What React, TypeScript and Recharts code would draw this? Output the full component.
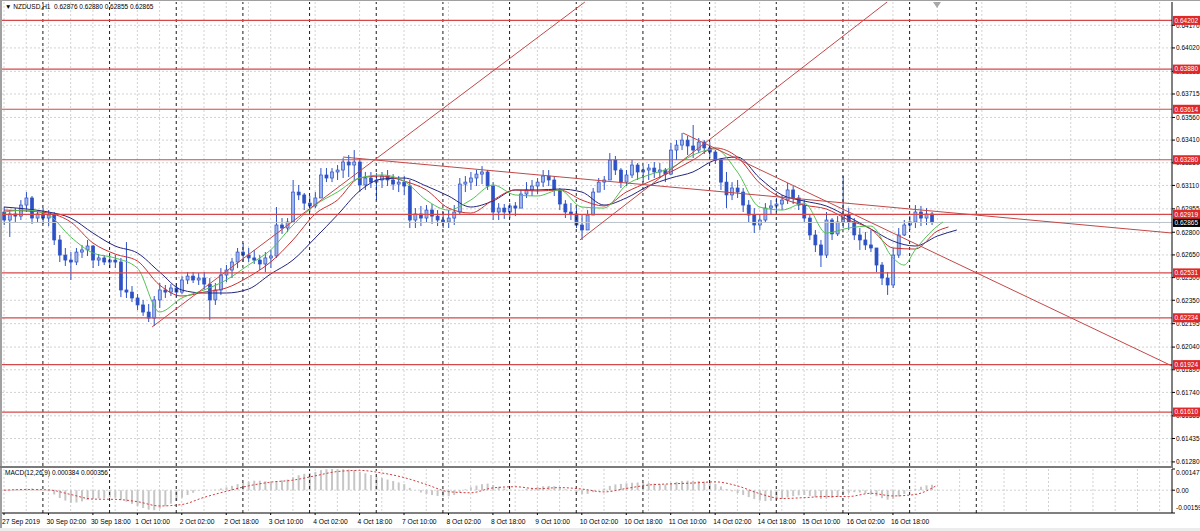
import {
  ComposedChart,
  Bar,
  Line,
  XAxis,
  YAxis,
  CartesianGrid,
  ReferenceLine,
} from 'recharts';

// 2-hour candles, NZDUSD H1 (27 Sep 10:00 -> 17 Oct), index k = hour bar number
const candleOpen = [
  0.62934, 0.62881, 0.62921, 0.62907, 0.6298, 0.63027, 0.62894, 0.62921, 0.62894, 0.62914,
  0.62749, 0.62649, 0.62616, 0.62603, 0.62669, 0.62683, 0.62709, 0.62616, 0.6263, 0.62603,
  0.62616, 0.62603, 0.62418, 0.62404, 0.62365, 0.62319, 0.62272, 0.62232, 0.62352, 0.62418,
  0.62404, 0.62431, 0.62404, 0.62484, 0.6251, 0.62484, 0.62497, 0.62457, 0.62352, 0.62418,
  0.62517, 0.6255, 0.62603, 0.62669, 0.62649, 0.6263, 0.62616, 0.6259, 0.6263, 0.62643,
  0.62848, 0.62828, 0.62868, 0.63066, 0.63047, 0.62993, 0.62974, 0.63027, 0.63179, 0.63159,
  0.63199, 0.63212, 0.63265, 0.63245, 0.63265, 0.63113, 0.63159, 0.63132, 0.63146, 0.63172,
  0.63146, 0.63119, 0.63132, 0.63106, 0.62881, 0.62921, 0.62894, 0.62947, 0.62907, 0.62881,
  0.62868, 0.62894, 0.62934, 0.63119, 0.63132, 0.63159, 0.63185, 0.63199, 0.63106, 0.62934,
  0.6296, 0.62934, 0.62974, 0.6296, 0.63053, 0.6308, 0.63106, 0.63132, 0.63172, 0.63146,
  0.6308, 0.62987, 0.62934, 0.62921, 0.62848, 0.62815, 0.62914, 0.63066, 0.63132, 0.63146,
  0.63278, 0.63212, 0.63132, 0.63179, 0.63245, 0.63199, 0.63212, 0.63225, 0.63199, 0.63212,
  0.63185, 0.63344, 0.63377, 0.6341, 0.63371, 0.63344, 0.63397, 0.63358, 0.63331, 0.63278,
  0.63132, 0.63047, 0.63093, 0.63066, 0.6298, 0.62914, 0.62848, 0.62881, 0.6296, 0.62974,
  0.62987, 0.63013, 0.6308, 0.63027, 0.6298, 0.62894, 0.62782, 0.62716, 0.62649, 0.62881,
  0.62789, 0.62868, 0.62914, 0.62868, 0.62782, 0.62749, 0.62716, 0.62696, 0.62583, 0.62497,
  0.62451, 0.62649, 0.62782, 0.62848, 0.62868, 0.62934, 0.62894, 0.62921,
];
const candleHigh = [
  0.62967, 0.62947, 0.6296, 0.63013, 0.63066, 0.6304, 0.62947, 0.6296, 0.62947, 0.62934,
  0.62782, 0.62696, 0.62669, 0.62696, 0.62716, 0.62749, 0.62716, 0.62656, 0.62649, 0.62643,
  0.62649, 0.6263, 0.62735, 0.62444, 0.62391, 0.62352, 0.62325, 0.62378, 0.62464, 0.62451,
  0.62457, 0.62464, 0.6251, 0.62537, 0.62537, 0.6253, 0.62537, 0.62497, 0.62464, 0.62563,
  0.62583, 0.6263, 0.62696, 0.62729, 0.62696, 0.62683, 0.62649, 0.62669, 0.62683, 0.62967,
  0.62894, 0.62894, 0.63146, 0.63113, 0.6306, 0.6304, 0.63066, 0.63225, 0.63225, 0.63225,
  0.63245, 0.63291, 0.63311, 0.63344, 0.63291, 0.63199, 0.63199, 0.63192, 0.63199, 0.63212,
  0.63185, 0.63172, 0.63172, 0.63146, 0.6296, 0.62974, 0.6298, 0.62987, 0.62947, 0.62934,
  0.62947, 0.6298, 0.63159, 0.63172, 0.63199, 0.63212, 0.63238, 0.63212, 0.63132, 0.62993,
  0.62987, 0.62993, 0.63, 0.6308, 0.63132, 0.63146, 0.63159, 0.63212, 0.63212, 0.63172,
  0.63093, 0.63013, 0.62993, 0.6296, 0.62914, 0.62947, 0.63093, 0.63159, 0.63172, 0.63324,
  0.63305, 0.63225, 0.63212, 0.63278, 0.63258, 0.63238, 0.63252, 0.63265, 0.63258, 0.63225,
  0.63391, 0.6341, 0.63457, 0.63437, 0.6351, 0.63424, 0.6341, 0.63397, 0.63344, 0.63291,
  0.63199, 0.63132, 0.63146, 0.63093, 0.63013, 0.6296, 0.62914, 0.62993, 0.63013, 0.63027,
  0.63047, 0.63126, 0.63106, 0.63047, 0.63013, 0.62914, 0.62815, 0.62749, 0.62934, 0.62894,
  0.62907, 0.63172, 0.6296, 0.62894, 0.62828, 0.62802, 0.62815, 0.62696, 0.62603, 0.62537,
  0.62696, 0.62828, 0.62881, 0.62907, 0.6298, 0.62974, 0.6296, 0.62934,
];
const candleLow = [
  0.62848, 0.62769, 0.62868, 0.62881, 0.62934, 0.62855, 0.62868, 0.62855, 0.62841, 0.62716,
  0.62603, 0.62577, 0.62484, 0.62583, 0.6263, 0.62643, 0.62563, 0.62577, 0.62583, 0.62563,
  0.62563, 0.62371, 0.62365, 0.62338, 0.62285, 0.62246, 0.62206, 0.62179, 0.62299, 0.62365,
  0.62378, 0.62371, 0.62391, 0.62457, 0.62464, 0.62451, 0.62418, 0.62219, 0.62319, 0.62385,
  0.62471, 0.62497, 0.62563, 0.62603, 0.62603, 0.6259, 0.6255, 0.62537, 0.62563, 0.6263,
  0.62789, 0.62802, 0.62868, 0.63013, 0.62947, 0.62934, 0.6296, 0.63027, 0.63132, 0.63132,
  0.63146, 0.63159, 0.63166, 0.63146, 0.63066, 0.6308, 0.63093, 0.63013, 0.63093, 0.63106,
  0.6308, 0.63066, 0.63047, 0.62828, 0.62828, 0.62841, 0.62868, 0.62855, 0.62841, 0.62828,
  0.62828, 0.62848, 0.62914, 0.63066, 0.6308, 0.63106, 0.63119, 0.6308, 0.62881, 0.62881,
  0.62888, 0.62894, 0.62907, 0.6296, 0.63027, 0.6304, 0.63053, 0.63099, 0.63106, 0.6304,
  0.62947, 0.62894, 0.62881, 0.62828, 0.62749, 0.62815, 0.62914, 0.63066, 0.6308, 0.63146,
  0.63179, 0.63093, 0.63106, 0.63159, 0.63146, 0.63132, 0.63146, 0.63159, 0.63159, 0.63132,
  0.63179, 0.63278, 0.63344, 0.63311, 0.63291, 0.63324, 0.63318, 0.63291, 0.63252, 0.6308,
  0.6296, 0.63013, 0.63027, 0.62934, 0.62868, 0.62795, 0.62815, 0.62868, 0.62921, 0.62934,
  0.62947, 0.62987, 0.62987, 0.62947, 0.62868, 0.62749, 0.62669, 0.6257, 0.6263, 0.62749,
  0.62775, 0.62828, 0.62815, 0.62749, 0.62683, 0.62683, 0.62669, 0.62537, 0.62451, 0.62385,
  0.62431, 0.6263, 0.62775, 0.62815, 0.62828, 0.62841, 0.62848, 0.62848,
];
const candleClose = [
  0.62881, 0.62921, 0.62907, 0.6298, 0.63027, 0.62894, 0.62921, 0.62894, 0.62914, 0.62749,
  0.62649, 0.62616, 0.62603, 0.62669, 0.62683, 0.62709, 0.62616, 0.6263, 0.62603, 0.62616,
  0.62603, 0.62418, 0.62404, 0.62365, 0.62319, 0.62272, 0.62232, 0.62352, 0.62418, 0.62404,
  0.62431, 0.62404, 0.62484, 0.6251, 0.62484, 0.62497, 0.62457, 0.62352, 0.62418, 0.62517,
  0.6255, 0.62603, 0.62669, 0.62649, 0.6263, 0.62616, 0.6259, 0.6263, 0.62643, 0.62848,
  0.62828, 0.62868, 0.63066, 0.63047, 0.62993, 0.62974, 0.63027, 0.63179, 0.63159, 0.63199,
  0.63212, 0.63265, 0.63245, 0.63265, 0.63113, 0.63159, 0.63132, 0.63146, 0.63172, 0.63146,
  0.63119, 0.63132, 0.63106, 0.62881, 0.62921, 0.62894, 0.62947, 0.62907, 0.62881, 0.62868,
  0.62894, 0.62934, 0.63119, 0.63132, 0.63159, 0.63185, 0.63199, 0.63106, 0.62934, 0.6296,
  0.62934, 0.62974, 0.6296, 0.63053, 0.6308, 0.63106, 0.63132, 0.63172, 0.63146, 0.6308,
  0.62987, 0.62934, 0.62921, 0.62848, 0.62815, 0.62914, 0.63066, 0.63132, 0.63146, 0.63278,
  0.63212, 0.63132, 0.63179, 0.63245, 0.63199, 0.63212, 0.63225, 0.63199, 0.63212, 0.63185,
  0.63344, 0.63377, 0.6341, 0.63371, 0.63344, 0.63397, 0.63358, 0.63331, 0.63278, 0.63132,
  0.63047, 0.63093, 0.63066, 0.6298, 0.62914, 0.62848, 0.62881, 0.6296, 0.62974, 0.62987,
  0.63013, 0.6308, 0.63027, 0.6298, 0.62894, 0.62782, 0.62716, 0.62649, 0.62881, 0.62789,
  0.62868, 0.62914, 0.62868, 0.62782, 0.62749, 0.62716, 0.62696, 0.62583, 0.62497, 0.62451,
  0.62649, 0.62782, 0.62848, 0.62868, 0.62934, 0.62894, 0.62921, 0.62865,
];
const macdMain = [
  0, 0.00002, 0.00004, 0.00008, 0.00012, 0.00012, 0.00008, 0.00002, -0.00008, -0.0003,
  -0.00055, -0.00072, -0.00088, -0.00086, -0.00078, -0.00068, -0.00062, -0.00058, -0.00054, -0.0005,
  -0.00052, -0.00068, -0.0008, -0.00095, -0.0011, -0.00124, -0.00136, -0.0014, -0.00128, -0.00112,
  -0.00094, -0.00074, -0.00052, -0.00034, -0.00018, -0.00004, 0.00004, 0, 0.00004, 0.00012,
  0.0002, 0.0003, 0.00042, 0.00052, 0.0006, 0.00066, 0.00066, 0.00062, 0.0006, 0.00064,
  0.00068, 0.00074, 0.0009, 0.00104, 0.00114, 0.0012, 0.00128, 0.0014, 0.00146, 0.00148,
  0.00146, 0.00146, 0.00144, 0.0014, 0.00128, 0.00118, 0.00106, 0.00094, 0.00084, 0.00074,
  0.00064, 0.00054, 0.00042, 0.00016, -0.00002, -0.00016, -0.00026, -0.00034, -0.0004, -0.00044,
  -0.00042, -0.00034, -0.00012, 0.00006, 0.0002, 0.00032, 0.00042, 0.00046, 0.00036, 0.00024,
  0.00012, 0.00004, -0.00002, 0.00002, 0.0001, 0.00016, 0.00022, 0.00028, 0.0003, 0.00028,
  0.00018, 0.00006, -0.00006, -0.00018, -0.00028, -0.00026, -0.00014, 0, 0.00012, 0.0003,
  0.0004, 0.00044, 0.00048, 0.00052, 0.00054, 0.00052, 0.0005, 0.00046, 0.00042, 0.0004,
  0.0005, 0.00058, 0.00064, 0.00066, 0.00066, 0.00064, 0.0006, 0.00054, 0.00044, 0.00026,
  0.00008, -0.00008, -0.0002, -0.00034, -0.00048, -0.00062, -0.00072, -0.00076, -0.00074, -0.00068,
  -0.0006, -0.0005, -0.00042, -0.00036, -0.00034, -0.0004, -0.0005, -0.0006, -0.00058, -0.00054,
  -0.00048, -0.0003, -0.00018, -0.00014, -0.00016, -0.00022, -0.0003, -0.00042, -0.00056, -0.00066,
  -0.0006, -0.00044, -0.00026, -0.00008, 0.0001, 0.00024, 0.00034, 0.00038,
];

// Alligator lines (read every 8 bars)
const jawK = [0, 8, 16, 24, 32, 40, 48, 56, 64, 72, 80, 88, 96, 104, 112, 120, 128, 136, 144, 152, 160, 168, 176, 184, 192, 200, 208, 216, 224, 232, 240, 248, 256, 264, 272, 280, 288, 296, 304, 312, 320, 328, 336, 343];
const jawV = [0.62967, 0.62954, 0.62934, 0.62894, 0.62795, 0.62709, 0.62663, 0.62537, 0.62418, 0.62398, 0.62398, 0.62424, 0.62524, 0.62616, 0.62762, 0.62914, 0.63073, 0.63152, 0.63159, 0.63106, 0.6304, 0.62967, 0.63007, 0.6308, 0.6308, 0.63086, 0.63066, 0.6298, 0.63027, 0.63106, 0.63159, 0.63199, 0.63278, 0.63298, 0.63159, 0.63047, 0.63007, 0.62974, 0.62901, 0.62822, 0.62742, 0.62709, 0.62775, 0.62815];
const teethK = [0, 8, 16, 24, 32, 40, 48, 56, 64, 72, 80, 88, 96, 104, 112, 120, 128, 136, 144, 152, 160, 168, 176, 184, 192, 200, 208, 216, 224, 232, 240, 248, 256, 264, 272, 280, 288, 296, 304, 312, 320, 328, 336, 340];
const teethV = [0.62947, 0.62941, 0.62927, 0.62868, 0.62729, 0.62656, 0.6261, 0.62451, 0.62378, 0.62404, 0.62431, 0.62504, 0.62603, 0.62749, 0.62921, 0.63013, 0.63159, 0.63172, 0.63139, 0.6308, 0.6296, 0.62927, 0.63013, 0.6308, 0.63073, 0.6308, 0.63013, 0.62974, 0.63066, 0.63132, 0.63199, 0.63278, 0.63358, 0.63298, 0.63126, 0.63027, 0.6298, 0.62954, 0.62881, 0.62822, 0.62696, 0.62689, 0.62808, 0.62835];
const lipsK = [0, 8, 16, 24, 32, 40, 48, 56, 64, 72, 80, 88, 96, 104, 112, 120, 128, 136, 144, 152, 160, 168, 176, 184, 192, 200, 208, 216, 224, 232, 240, 248, 256, 264, 272, 280, 288, 296, 304, 312, 320, 324, 328, 336, 338];
const lipsV = [0.62934, 0.62947, 0.62914, 0.62769, 0.62663, 0.6263, 0.62563, 0.62272, 0.62365, 0.62418, 0.62484, 0.62583, 0.62683, 0.62848, 0.6298, 0.63066, 0.63159, 0.63179, 0.63139, 0.63013, 0.62947, 0.63013, 0.63113, 0.63047, 0.6304, 0.6308, 0.62967, 0.6296, 0.63113, 0.63179, 0.63225, 0.63311, 0.63351, 0.63199, 0.62967, 0.62947, 0.62993, 0.62795, 0.62828, 0.62841, 0.6263, 0.62583, 0.62683, 0.62841, 0.62868];

// MACD signal (dotted), every 8 bars
const signalK = [0, 8, 16, 24, 32, 40, 48, 56, 64, 72, 80, 88, 96, 104, 112, 120, 128, 136, 144, 152, 160, 168, 176, 184, 192, 200, 208, 216, 224, 232, 240, 248, 256, 264, 272, 280, 288, 296, 304, 312, 320, 328, 336];
const signalV = [0, 0.00004, 0.00002, -0.0003, -0.00062, -0.00064, -0.0008, -0.0011, -0.001, -0.0005, -0.00008, 0.0003, 0.00056, 0.0007, 0.001, 0.0013, 0.00138, 0.0012, 0.00088, 0.0004, -0.0001, -0.00018, 0.00016, 0.00024, 0.0001, 0.00018, 0.00008, -0.00012, 0.00012, 0.00036, 0.00044, 0.0005, 0.00058, 0.0003, -0.00024, -0.00058, -0.00052, -0.00044, -0.00044, -0.00022, -0.0004, -0.0003, 0.00036];

const levelPrices = [0.64202, 0.6388, 0.63614, 0.6328, 0.62919, 0.62531, 0.62234, 0.61924, 0.6161];
const lastPrice = 0.62865;
const priceTicks = [0.6417, 0.6402, 0.63865, 0.63715, 0.6356, 0.6341, 0.6326, 0.6311, 0.62955, 0.628, 0.6265, 0.625, 0.6235, 0.62195, 0.6204, 0.6189, 0.6174, 0.61585, 0.61435, 0.6128];

// trend lines: [startBar, startPrice, endBar, endPrice]
const trendLines = [
  [53.3, 0.62173, 209.1, 0.64324],
  [207.3, 0.62749, 317.9, 0.64324],
  [122, 0.63298, 420.45, 0.62795],
  [244.4, 0.63457, 420.45, 0.61915],
];

const timeLabels = ['27 Sep 2019', '30 Sep 02:00', '30 Sep 18:00', '1 Oct 10:00', '2 Oct 02:00', '2 Oct 18:00', '3 Oct 10:00', '4 Oct 02:00', '4 Oct 18:00', '7 Oct 10:00', '8 Oct 02:00', '8 Oct 18:00', '9 Oct 10:00', '10 Oct 02:00', '10 Oct 18:00', '11 Oct 10:00', '14 Oct 02:00', '14 Oct 18:00', '15 Oct 10:00', '16 Oct 02:00', '16 Oct 18:00'];
const labelBars = timeLabels.map((_, i) => i * 16);
const gridBars = Array.from({ length: 53 }, (_, i) => i * 8);
const daySeparators = [14, 38, 62, 86, 110, 134, 158, 182, 206, 230, 254, 278, 302, 326, 350];

const macdTicks = [0.001477, 0, -0.00159];
const macdTickText = ['0.001477', '0.00', '-0.00159'];

const X_DOMAIN: [number, number] = [-0.72, 420.45];
const P_DOMAIN: [number, number] = [0.61253, 0.64324];
const FONT = '"Liberation Sans", Arial, sans-serif';
const MAIN_MARGIN = { top: 2, right: 0, bottom: 1, left: 2 };

const candles = candleOpen.map((o, j) => ({
  k: j * 2,
  o,
  h: candleHigh[j],
  l: candleLow[j],
  c: candleClose[j],
  range: [candleLow[j], candleHigh[j]],
  macd: macdMain[j],
}));
const jaw = jawK.map((k, i) => ({ k, v: jawV[i] }));
const teeth = teethK.map((k, i) => ({ k, v: teethV[i] }));
const lips = lipsK.map((k, i) => ({ k, v: lipsV[i] }));
const signal = signalK.map((k, i) => ({ k, v: signalV[i] }));

const Candle = (props: any) => {
  const { x, y, width, height, payload } = props;
  if (!payload || height == null || isNaN(y)) return null;
  const top = Math.min(y, y + height);
  const h = Math.abs(height);
  const span = payload.h - payload.l;
  const px = span > 0 ? h / span : 0;
  const yOf = (v: number) => top + (payload.h - v) * px;
  const cx = x + width / 2;
  const bTop = yOf(Math.max(payload.o, payload.c));
  const bBot = yOf(Math.min(payload.o, payload.c));
  const up = payload.c >= payload.o;
  return (
    <g>
      <line x1={cx} x2={cx} y1={top} y2={top + h} stroke="#2d52c6" strokeWidth={1} />
      <rect
        x={cx - 1.5}
        y={bTop}
        width={3}
        height={Math.max(1, bBot - bTop)}
        fill={up ? '#9fb4ec' : '#2d52c6'}
        stroke="#2d52c6"
        strokeWidth={0.7}
      />
    </g>
  );
};

const priceTag = (vb: any, text: string, bg: string) => {
  if (!vb) return null;
  const x = vb.x + vb.width;
  return (
    <g>
      <rect x={x + 1} y={vb.y - 4.5} width={28} height={9} fill={bg} />
      <text x={x + 2.5} y={vb.y} dy="0.36em" fontSize={6.5} fill="#fff" fontFamily={FONT}>
        {text}
      </text>
    </g>
  );
};

const TimeTick = ({ x, y, payload }: any) => {
  const idx = labelBars.indexOf(payload.value);
  return (
    <text x={x - 2} y={y} dy={7} fontSize={6.7} fill="#000" fontFamily={FONT}>
      {timeLabels[idx]}
    </text>
  );
};

const MacdTick = ({ x, y, payload }: any) => {
  const idx = macdTicks.indexOf(payload.value);
  const dy = idx === 0 ? 6 : idx === 2 ? -3 : 2.5;
  return (
    <text x={x} y={y + dy} fontSize={6.5} fill="#000" fontFamily={FONT}>
      {macdTickText[idx]}
    </text>
  );
};

export default function App() {
  return (
    <div
      style={{
        position: 'absolute',
        left: 0,
        top: 0,
        width: 1200,
        height: 531,
        background: '#fff',
        overflow: 'hidden',
        fontFamily: FONT,
      }}
    >
      <div style={{ position: 'absolute', left: 0, top: 0 }}>
        <ComposedChart width={1200} height={467} data={candles} margin={MAIN_MARGIN}>
          <CartesianGrid stroke="#d2d2d2" strokeDasharray="2 2" horizontalValues={priceTicks} verticalValues={gridBars} />
          <XAxis type="number" dataKey="k" domain={X_DOMAIN} allowDataOverflow hide />
          <YAxis
            orientation="right"
            type="number"
            domain={P_DOMAIN}
            allowDataOverflow
            ticks={priceTicks}
            interval={0}
            width={28}
            tickSize={3}
            tickMargin={1}
            tickFormatter={(v: number) => v.toFixed(5)}
            tick={{ fontSize: 6.5, fill: '#000', fontFamily: FONT }}
            axisLine={{ stroke: '#000' }}
            tickLine={{ stroke: '#000' }}
          />
          {daySeparators.map((k) => (
            <ReferenceLine key={'d' + k} x={k} stroke="#1a1a1a" strokeDasharray="3 3" />
          ))}
          <ReferenceLine y={lastPrice} stroke="#b9c2c9" />
          <Bar dataKey="range" barSize={4} shape={<Candle />} isAnimationActive={false} />
          <Line data={jaw} dataKey="v" type="monotone" stroke="#24247e" strokeWidth={1} dot={false} isAnimationActive={false} />
          <Line data={teeth} dataKey="v" type="monotone" stroke="#c83232" strokeWidth={1} dot={false} isAnimationActive={false} />
          <Line data={lips} dataKey="v" type="monotone" stroke="#52c252" strokeWidth={1} dot={false} isAnimationActive={false} />
          {trendLines.map((t, i) => (
            <ReferenceLine
              key={'t' + i}
              segment={[
                { x: t[0], y: t[1] },
                { x: t[2], y: t[3] },
              ]}
              stroke="#c24848"
              strokeWidth={1}
            />
          ))}
          {levelPrices.map((v) => (
            <ReferenceLine key={'l' + v} y={v} stroke="#d4484a" strokeWidth={1.2} />
          ))}
        </ComposedChart>
      </div>

      {/* price tags drawn above the axis labels */}
      <div style={{ position: 'absolute', left: 0, top: 0, pointerEvents: 'none' }}>
        <ComposedChart width={1200} height={467} data={candles} margin={MAIN_MARGIN}>
          <XAxis type="number" dataKey="k" domain={X_DOMAIN} allowDataOverflow hide />
          <YAxis
            orientation="right"
            type="number"
            domain={P_DOMAIN}
            allowDataOverflow
            width={28}
            tick={false}
            axisLine={false}
            tickLine={false}
          />
          <ReferenceLine
            y={lastPrice}
            strokeOpacity={0}
            label={{ content: (p: any) => priceTag(p.viewBox, lastPrice.toFixed(5), '#000') }}
          />
          {levelPrices.map((v) => (
            <ReferenceLine
              key={'g' + v}
              y={v}
              strokeOpacity={0}
              label={{ content: (p: any) => priceTag(p.viewBox, v.toFixed(5), '#e02828') }}
            />
          ))}
        </ComposedChart>
      </div>

      <div style={{ position: 'absolute', left: 0, top: 468 }}>
        <ComposedChart width={1200} height={63} data={candles} margin={{ top: 1, right: 0, bottom: 0, left: 2 }}>
          <CartesianGrid stroke="#d2d2d2" strokeDasharray="2 2" horizontalValues={[0]} verticalValues={gridBars} />
          <XAxis
            type="number"
            dataKey="k"
            domain={X_DOMAIN}
            allowDataOverflow
            ticks={labelBars}
            interval={0}
            height={18}
            tickSize={2}
            tick={<TimeTick />}
            axisLine={{ stroke: '#000' }}
            tickLine={{ stroke: '#000' }}
          />
          <YAxis
            orientation="right"
            type="number"
            domain={[-0.00159, 0.001477]}
            allowDataOverflow
            ticks={macdTicks}
            interval={0}
            width={28}
            tickSize={3}
            tickMargin={1}
            tick={<MacdTick />}
            axisLine={{ stroke: '#000' }}
            tickLine={{ stroke: '#000' }}
          />
          {daySeparators.map((k) => (
            <ReferenceLine key={'m' + k} x={k} stroke="#1a1a1a" strokeDasharray="3 3" />
          ))}
          <Bar dataKey="macd" barSize={2} fill="#c6c6c6" isAnimationActive={false} />
          <Line data={signal} dataKey="v" type="monotone" stroke="#d23c3c" strokeDasharray="2 2" strokeWidth={1} dot={false} isAnimationActive={false} />
        </ComposedChart>
      </div>

      {/* window frame and panel separators */}
      <div style={{ position: 'absolute', left: 0, top: 0, width: 2, height: 531, background: '#a0a0a0' }} />
      <div style={{ position: 'absolute', left: 0, top: 0, width: 1200, height: 1, background: '#a0a0a0' }} />
      <div style={{ position: 'absolute', left: 0, top: 466, width: 1173, height: 2, background: '#7a7a7a' }} />
      <div style={{ position: 'absolute', left: 0, top: 528, width: 1200, height: 3, background: '#ececec' }} />
      <div
        style={{
          position: 'absolute',
          left: 933,
          top: 2,
          width: 0,
          height: 0,
          borderLeft: '4px solid transparent',
          borderRight: '4px solid transparent',
          borderTop: '6px solid #a8a8a8',
        }}
      />

      <div style={{ position: 'absolute', left: 5, top: 3, fontSize: 6.5, color: '#000', whiteSpace: 'pre', lineHeight: '8px' }}>
        ▼ NZDUSD,H1  0.62876 0.62880 0.62855 0.62865
      </div>
      <div style={{ position: 'absolute', left: 5, top: 469, fontSize: 6.5, color: '#000', whiteSpace: 'pre', lineHeight: '8px' }}>
        MACD(12,26,9) 0.000384 0.000356
      </div>
    </div>
  );
}
